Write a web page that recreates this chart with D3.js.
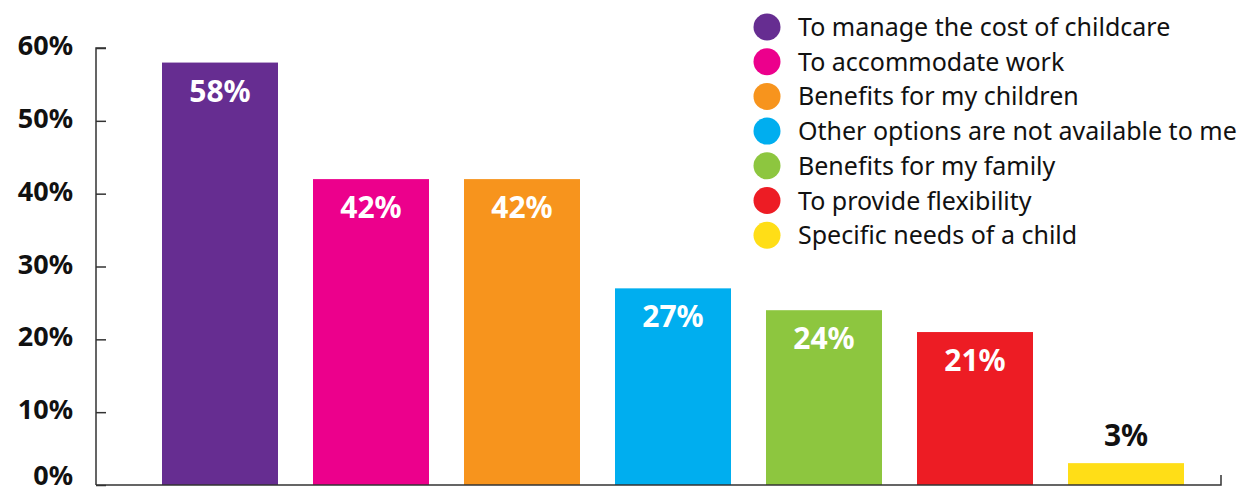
<!DOCTYPE html>
<html>
<head>
<meta charset="utf-8">
<script src="https://cdn.jsdelivr.net/npm/d3@7"></script>
<style>
  body { margin: 0; background: #fff; }
  svg { display: block; font-family: 'Noto Sans', 'Open Sans', sans-serif; }
</style>
</head>
<body>
<div id="chart"></div>
<script>
// reasons for choosing this childcare
var categories = ['To manage the cost of childcare', 'To accommodate work', 'Benefits for my children',
  'Other options are not available to me', 'Benefits for my family', 'To provide flexibility', 'Specific needs of a child']
var values = [58, 42, 42, 27, 24, 21, 3]
var colors = ['#662d91', '#ec008c', '#f7941d', '#00aeef', '#8dc63f', '#ed1c24', '#ffde17']
var yTicks = [0, 10, 20, 30, 40, 50, 60]

var width = 1242, height = 493

var svg = d3.select('#chart')
  .append('svg')
  .attr('width', width)
  .attr('height', height)

var x = d3.scaleBand()
  .domain(categories)
  .range([162, 1184])
  .paddingInner(35 / 151)
  .paddingOuter(0)

var y = d3.scaleLinear()
  .domain([0, 60])
  .range([485, 48])

// y axis
var yAxis = svg.append('g')
  .attr('transform', 'translate(96,0)')
  .call(d3.axisRight(y).tickValues(yTicks).tickSize(10).tickFormat(''))
yAxis.select('.domain').attr('stroke', '#333').attr('stroke-width', 1.5).attr('d', 'M10,48H0V485')
yAxis.selectAll('.tick line').attr('stroke', '#333').attr('stroke-width', 1.5)

svg.selectAll('.ylabel')
  .data(yTicks)
  .enter()
  .append('text')
  .attr('class', 'ylabel')
  .attr('x', 73)
  .attr('y', function(d) { return Math.min(y(d) + 7, 485) })
  .attr('text-anchor', 'end')
  .attr('font-size', 27)
  .attr('font-weight', 'bold')
  .attr('fill', '#111')
  .text(function(d) { return d + '%' })

// bars
svg.selectAll('.bar')
  .data(values)
  .enter()
  .append('rect')
  .attr('class', 'bar')
  .attr('x', function(d, i) { return x(categories[i]) })
  .attr('y', function(d) { return y(d) })
  .attr('width', x.bandwidth())
  .attr('height', function(d) { return y(0) - y(d) })
  .attr('fill', function(d, i) { return colors[i] })

// x axis line
svg.append('path')
  .attr('d', 'M96,485H1221V475')
  .attr('fill', 'none')
  .attr('stroke', '#333')
  .attr('stroke-width', 1.5)

// value labels
svg.selectAll('.vlabel')
  .data(values)
  .enter()
  .append('text')
  .attr('class', 'vlabel')
  .attr('x', function(d, i) { return x(categories[i]) + x.bandwidth() / 2 })
  .attr('y', function(d) { return d > 10 ? y(d) + 39 : y(d) - 17 })
  .attr('text-anchor', 'middle')
  .attr('font-size', 30)
  .attr('font-weight', 'bold')
  .attr('fill', function(d) { return d > 10 ? '#fff' : '#111' })
  .text(function(d) { return d + '%' })

// legend
var legend = svg.selectAll('.legend')
  .data(categories)
  .enter()
  .append('g')
  .attr('class', 'legend')
  .attr('transform', function(d, i) { return 'translate(767,' + (27 + i * 34.7) + ')' })

legend.append('circle')
  .attr('r', 13.5)
  .attr('fill', function(d, i) { return colors[i] })

legend.append('text')
  .attr('x', 31)
  .attr('y', 9)
  .attr('font-size', 25)
  .attr('fill', '#111')
  .text(function(d) { return d })
</script>
</body>
</html>
